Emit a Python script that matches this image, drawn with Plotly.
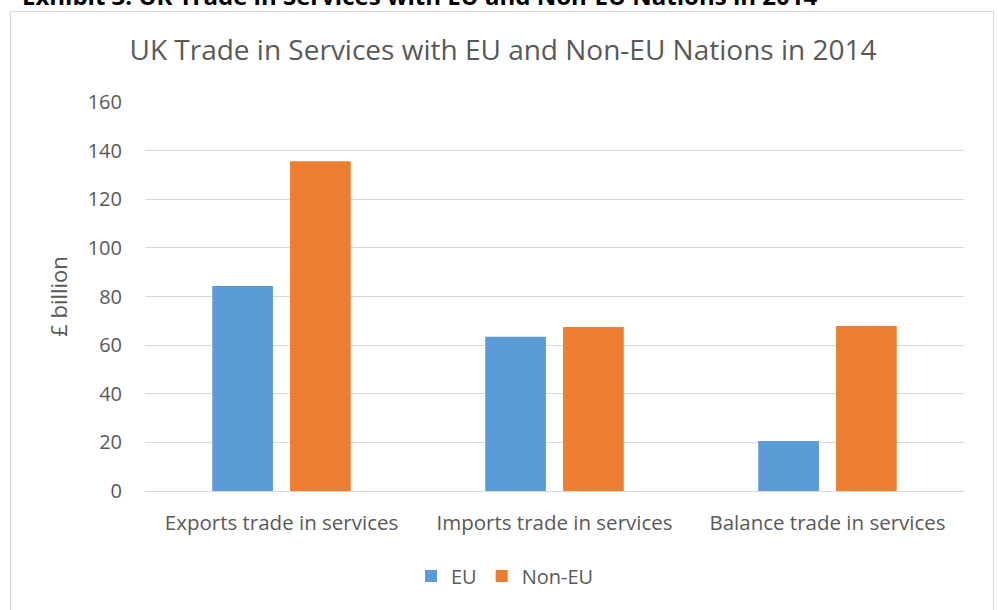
import plotly.graph_objects as go

categories = ["Exports trade in services", "Imports trade in services", "Balance trade in services"]
eu_values = [84.3, 63.4, 20.6]
non_eu_values = [135.6, 67.5, 67.9]
y_ticks = [0, 20, 40, 60, 80, 100, 120, 140, 160]

W, H = 998, 610
L, R, T, B = 145, 34, 102, 119
pw, ph = W - L - R, H - T - B

def px_x(p):
    return (p - L) / pw

def px_y(p):
    return (H - B - p) / ph

font = "Open Sans, Liberation Sans, sans-serif"
grey = "#595959"

fig = go.Figure()
fig.add_trace(go.Bar(x=categories, y=eu_values, name="EU", marker=dict(color="#5b9bd5", line=dict(width=0))))
fig.add_trace(go.Bar(x=categories, y=non_eu_values, name="Non-EU", marker=dict(color="#ed7d31", line=dict(width=0))))

fig.update_layout(
    width=W, height=H,
    margin=dict(l=L, r=R, t=T, b=B),
    paper_bgcolor="white", plot_bgcolor="white",
    barmode="group", bargap=0.43, bargroupgap=0.22,
    font=dict(family=font, color=grey, size=20),
    title=dict(text="UK Trade in Services with EU and Non-EU Nations in 2014",
               x=0.504, xanchor="center", y=1 - 50 / H, yanchor="middle",
               font=dict(size=28, color=grey, family=font)),
    showlegend=True,
    legend=dict(orientation="h", x=px_x(505), xanchor="center", y=px_y(576), yanchor="middle",
                font=dict(size=20, color=grey), itemwidth=30, traceorder="normal"),
    xaxis=dict(showgrid=False, showline=False, ticks="", tickfont=dict(size=20.5, color=grey),
               ticklabelstandoff=17),
    yaxis=dict(range=[0, 160], tickvals=y_ticks, showgrid=True, gridcolor="#d9d9d9", gridwidth=1,
               zeroline=True, zerolinecolor="#d9d9d9", zerolinewidth=1, showline=False, ticks="",
               tickfont=dict(size=20, color=grey), ticklabelstandoff=22,
               title=dict(text="£ billion", font=dict(size=22, color=grey), standoff=13)),
    shapes=[dict(type="rect", xref="paper", yref="paper",
                 x0=px_x(10.5), x1=px_x(993.5), y0=px_y(612), y1=px_y(11.5),
                 line=dict(color="#d9d9d9", width=1), fillcolor="rgba(0,0,0,0)", layer="below")],
    annotations=[dict(text="<b>Exhibit 3: UK Trade in Services with EU and Non-EU Nations in 2014</b>",
                      xref="paper", yref="paper", x=px_x(20), y=px_y(-5), xanchor="left", yanchor="middle",
                      showarrow=False, font=dict(size=24, color="black", family=font))],
)

fig.write_html("out.html")
